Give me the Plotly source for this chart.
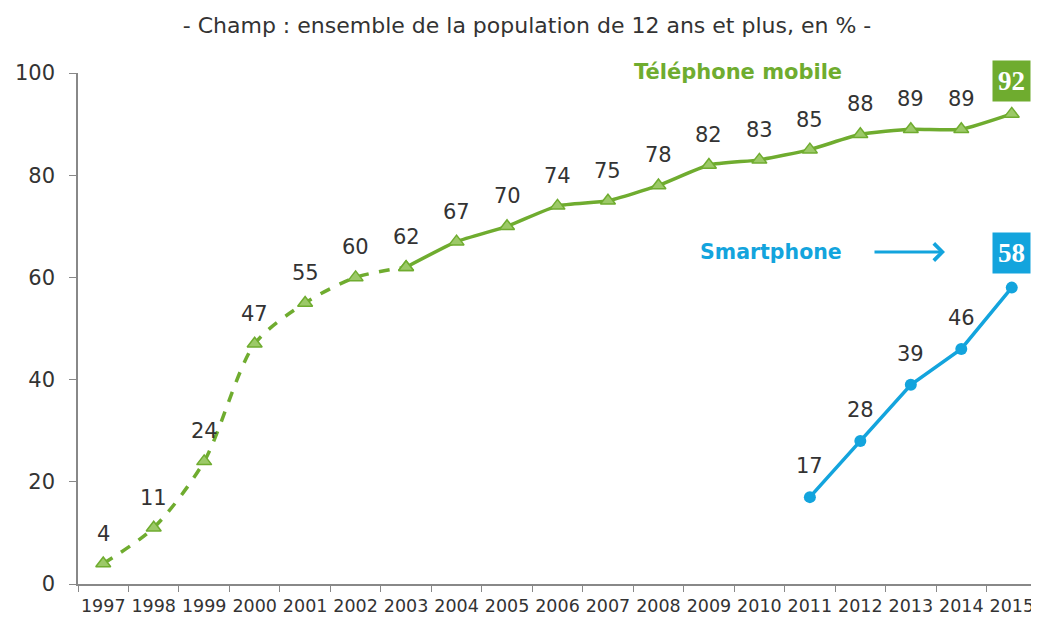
import plotly.graph_objects as go

years = [str(y) for y in range(1997, 2016)]
mobile = [4, 11, 24, 47, 55, 60, 62, 67, 70, 74, 75, 78, 82, 83, 85, 88, 89, 89, 92]
smart_years = ["2011", "2012", "2013", "2014", "2015"]
smart = [17, 28, 39, 46, 58]
dash_end = 7  # 1997..2003 dashed

GREEN = "#6FAC2F"
GREEN_FILL = "#9CC968"
BLUE = "#13A4DD"
TXT = "#333333"
FONT = "DejaVu Sans"

fig = go.Figure()

fig.add_trace(go.Scatter(
    x=years[:dash_end], y=mobile[:dash_end], mode="lines+markers",
    line=dict(color=GREEN, width=3.5, dash="dash", shape="spline", smoothing=0.8),
    marker=dict(symbol="triangle-up", size=13, color=GREEN_FILL, line=dict(color=GREEN, width=1.5)),
    showlegend=False, hoverinfo="skip"))
fig.add_trace(go.Scatter(
    x=years[dash_end - 1:], y=mobile[dash_end - 1:], mode="lines+markers",
    line=dict(color=GREEN, width=3.5, shape="spline", smoothing=0.5),
    marker=dict(symbol="triangle-up", size=13, color=GREEN_FILL, line=dict(color=GREEN, width=1.5)),
    showlegend=False, hoverinfo="skip"))
fig.add_trace(go.Scatter(
    x=smart_years, y=smart, mode="lines+markers",
    line=dict(color=BLUE, width=3.5),
    marker=dict(symbol="circle", size=12, color=BLUE),
    showlegend=False, hoverinfo="skip"))

annotations = []
for i, v in enumerate(mobile):
    if i == len(mobile) - 1:
        annotations.append(dict(x=i, y=v, xref="x", yref="y", text="<b>%d</b>" % v, showarrow=False,
                                yshift=33, bgcolor=GREEN, borderpad=5,
                                font=dict(family="Liberation Serif", size=27, color="white")))
    else:
        annotations.append(dict(x=i, y=v, xref="x", yref="y", text=str(v), showarrow=False,
                                yshift=30, font=dict(family=FONT, size=21, color=TXT)))
for j, v in enumerate(smart):
    i = years.index(smart_years[j])
    if j == len(smart) - 1:
        annotations.append(dict(x=i, y=v, xref="x", yref="y", text="<b>%d</b>" % v, showarrow=False,
                                yshift=35, bgcolor=BLUE, borderpad=5,
                                font=dict(family="Liberation Serif", size=27, color="white")))
    else:
        annotations.append(dict(x=i, y=v, xref="x", yref="y", text=str(v), showarrow=False,
                                yshift=31, font=dict(family=FONT, size=21, color=TXT)))

annotations.append(dict(x=(738 - 78) / 959, y=(584 - 72) / 511, xref="paper", yref="paper",
                        xanchor="center", yanchor="middle",
                        text="<b>Téléphone mobile</b>",
                        showarrow=False, font=dict(family=FONT, size=21, color=GREEN)))
annotations.append(dict(x=(771 - 78) / 959, y=(584 - 252) / 511, xref="paper", yref="paper",
                        xanchor="center", yanchor="middle",
                        text="<b>Smartphone</b>",
                        showarrow=False, font=dict(family=FONT, size=20.5, color=BLUE)))
annotations.append(dict(x=(945 - 78) / 959, y=(584 - 252) / 511, ax=-72, ay=0,
                        xref="paper", yref="paper",
                        showarrow=True, arrowhead=4, arrowsize=1.1, arrowwidth=3, arrowcolor=BLUE, text=""))

fig.update_layout(
    width=1031, height=611,
    margin=dict(l=70, r=2, t=65, b=35, autoexpand=False),
    paper_bgcolor="white", plot_bgcolor="white",
    title=dict(text="- Champ : ensemble de la population de 12 ans et plus, en % -",
               x=519 / 1031, xanchor="center", y=1 - 17 / 611, yanchor="middle",
               font=dict(family=FONT, size=22, color=TXT)),
    annotations=annotations,
    xaxis=dict(type="category", categoryorder="array", categoryarray=years, range=[-0.5, 18.5],
               tickson="boundaries", ticks="outside", ticklen=6, tickcolor="#888", tickangle=0,
               automargin=False, ticklabelstandoff=5,
               showline=True, linecolor="#888", linewidth=1.5, showgrid=False, zeroline=False,
               tickfont=dict(family=FONT, size=17.5, color=TXT)),
    yaxis=dict(range=[0, 100], tickvals=[0, 20, 40, 60, 80, 100], ticks="outside", ticklen=7,
               tickcolor="#888", showline=True, linecolor="#888", linewidth=1.5,
               showgrid=False, zeroline=False, automargin=False, ticklabelstandoff=10,
               tickfont=dict(family=FONT, size=21, color=TXT)),
)

fig.write_html("out.html")
